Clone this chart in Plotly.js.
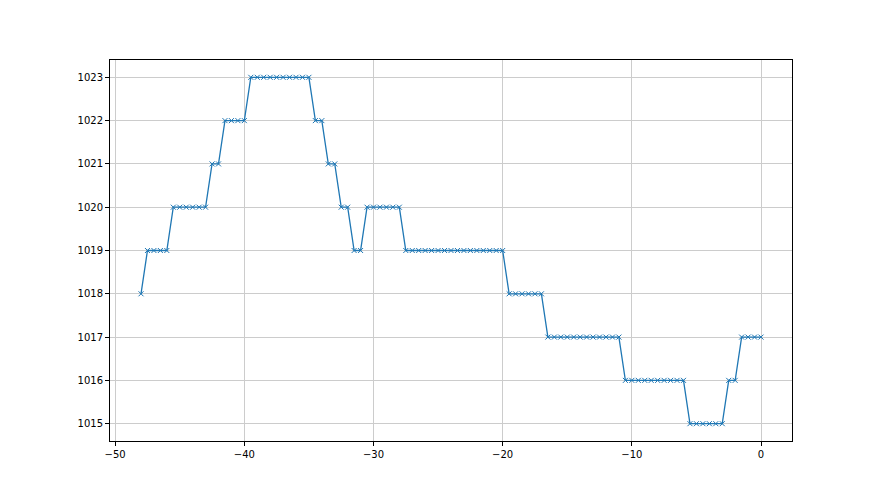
<!DOCTYPE html>
<html>
<head>
<meta charset="utf-8">
<script src="https://cdn.plot.ly/plotly-3.0.1.min.js"></script>
<style>html,body{margin:0;padding:0;background:#fff;}#chart{width:880px;height:495px;}</style>
</head>
<body>
<div id="chart"></div>
<script>
// x positions (every 0.5 from -48 to 0) and pressure values
const xValues = [
  -48, -47.5, -47, -46.5, -46, -45.5, -45, -44.5, -44, -43.5, -43,
  -42.5, -42, -41.5, -41, -40.5, -40, -39.5, -39, -38.5, -38, -37.5,
  -37, -36.5, -36, -35.5, -35, -34.5, -34, -33.5, -33, -32.5, -32,
  -31.5, -31, -30.5, -30, -29.5, -29, -28.5, -28, -27.5, -27, -26.5,
  -26, -25.5, -25, -24.5, -24, -23.5, -23, -22.5, -22, -21.5, -21,
  -20.5, -20, -19.5, -19, -18.5, -18, -17.5, -17, -16.5, -16, -15.5,
  -15, -14.5, -14, -13.5, -13, -12.5, -12, -11.5, -11, -10.5, -10,
  -9.5, -9, -8.5, -8, -7.5, -7, -6.5, -6, -5.5, -5, -4.5, -4, -3.5,
  -3, -2.5, -2, -1.5, -1, -0.5, 0
];
const yValues = [
  1018, 1019, 1019, 1019, 1019, 1020, 1020, 1020, 1020, 1020, 1020,
  1021, 1021, 1022, 1022, 1022, 1022, 1023, 1023, 1023, 1023, 1023,
  1023, 1023, 1023, 1023, 1023, 1022, 1022, 1021, 1021, 1020, 1020,
  1019, 1019, 1020, 1020, 1020, 1020, 1020, 1020, 1019, 1019, 1019,
  1019, 1019, 1019, 1019, 1019, 1019, 1019, 1019, 1019, 1019, 1019,
  1019, 1019, 1018, 1018, 1018, 1018, 1018, 1018, 1017, 1017, 1017,
  1017, 1017, 1017, 1017, 1017, 1017, 1017, 1017, 1017, 1016, 1016,
  1016, 1016, 1016, 1016, 1016, 1016, 1016, 1016, 1015, 1015, 1015,
  1015, 1015, 1015, 1016, 1016, 1017, 1017, 1017, 1017
];
const xTicks = [-50, -40, -30, -20, -10, 0];
const yTicks = [1015, 1016, 1017, 1018, 1019, 1020, 1021, 1022, 1023];

const color = '#1f77b4';
const trace = {
  x: xValues, y: yValues, type: 'scatter', mode: 'lines+markers',
  line: {color: color, width: 1.3},
  marker: {symbol: 'x-thin-open', size: 5, color: color, line: {color: color, width: 1}},
  hoverinfo: 'skip'
};
const axisCommon = {
  showline: true, mirror: true, linecolor: '#000', linewidth: 1,
  ticks: 'outside', ticklen: 4, tickwidth: 1, tickcolor: '#000',
  showgrid: true, gridcolor: '#cccccc', gridwidth: 1, zeroline: false,
  tickfont: {family: 'DejaVu Sans', size: 10, color: '#000'}
};
const layout = {
  width: 880, height: 495,
  margin: {l: 110, r: 88, t: 60, b: 54},
  paper_bgcolor: '#fff', plot_bgcolor: '#fff',
  showlegend: false,
  xaxis: Object.assign({}, axisCommon, {range: [-50.4, 2.4], tickvals: xTicks, ticktext: xTicks.map(v => v < 0 ? '\u2212' + Math.abs(v) : String(v))}),
  yaxis: Object.assign({}, axisCommon, {range: [1014.6, 1023.4], tickvals: yTicks, ticktext: yTicks.map(String)})
};
Plotly.newPlot('chart', [trace], layout, {displayModeBar: false, staticPlot: true});
</script>
</body>
</html>
